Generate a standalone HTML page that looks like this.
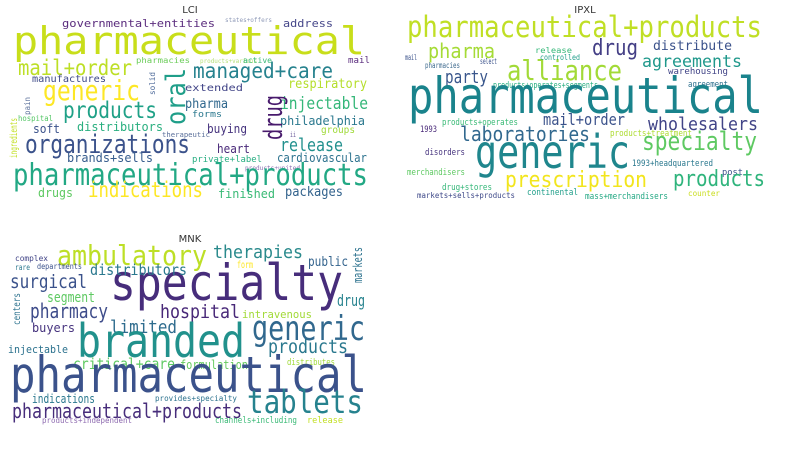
<!DOCTYPE html>
<html><head><meta charset="utf-8">
<style>
html,body{margin:0;padding:0;background:#fff;}
svg{display:block;}
text{font-family:"DejaVu Sans Mono","Liberation Mono",monospace;}
.t{font-family:"DejaVu Sans","Liberation Sans",sans-serif;fill:#333;font-size:10px;}
</style></head>
<body>
<svg id="c" width="787" height="450" viewBox="0 0 787 450">
<text class="t" x="190" y="13" text-anchor="middle">LCI</text>
<text class="t" x="585" y="13" text-anchor="middle">IPXL</text>
<text class="t" x="190" y="242" text-anchor="middle">MNK</text>
</svg>
<script>
// word, left x, baseline y, font size, width, color, rotated(1 = vertical, x=right edge, y=bottom)
const lciWords = [
["pharmaceutical",13,54,38,352,"#c8de1a"],
["governmental+entities",62,27,11,153,"#5b2d7e"],
["address",283,27,11,50,"#46478a"],
["states+offers",225,22,6,47,"#8f9ab8"],
["mail+order",18,75,21,114,"#bddf26"],
["generic",43,100,28,97,"#fde725"],
["managed+care",193,78,21,140,"#26828e"],
["pharmacies",136,63,8,54,"#6ccd5a"],
["products+various",200,63,6,57,"#b8e07a"],
["active",243,63,8,29,"#3aba76"],
["mail",348,63,9,22,"#5b2d7e"],
["manufactures",32,82,10,74,"#3e4a89"],
["respiratory",288,88,13,79,"#b5de2b"],
["extended",185,91,10,58,"#414487"],
["injectable",280,109,17,88,"#35b779"],
["products",63,118,23,94,"#1fa187"],
["pharma",185,108,13,43,"#31688e"],
["forms",192,117,9,30,"#2a788e"],
["philadelphia",280,125,12,85,"#2a788e"],
["hospital",18,121,8,35,"#55c667"],
["soft",33,133,12,27,"#3b528b"],
["distributors",77,131,12,86,"#29af7f"],
["buying",207,133,12,40,"#46337e"],
["groups",321,133,10,34,"#a0da39"],
["therapeutic",162,137,7,48,"#5a6f9a"],
["ii",290,137,7,6,"#6a5a9a"],
["organizations",25,153,26,165,"#3b528b"],
["release",280,151,18,63,"#21908d"],
["heart",217,153,12,33,"#482878"],
["brands+sells",67,162,12,86,"#365c8d"],
["cardiovascular",277,162,12,90,"#2c728e"],
["private+label",192,162,9,70,"#27ad81"],
["products+united",245,170,6,55,"#8a6fb0"],
["pharmaceutical+products",13,185,30,355,"#22a884"],
["indications",88,197,21,115,"#fde725"],
["drugs",38,197,12,35,"#5ec962"],
["finished",218,198,12,57,"#3aba76"],
["packages",285,196,13,58,"#33638d"],
["oral",185,125,27,57,"#1f9e89",1],
["drug",282,140,26,45,"#481a6c",1],
["ingredients",17,158,10,40,"#c2df23",1],
["pain",30,115,8,18,"#5a6f9a",1],
["solid",155,95,8,23,"#4e6a9a",1]
];
const ipxlWords = [
["pharmaceutical+products",407,37,29,355,"#c0df25"],
["pharma",428,58,20,67,"#a5db36"],
["drug",592,55,22,46,"#433e85"],
["distribute",653,50,13,79,"#3b528b"],
["alliance",507,80,28,115,"#a2da37"],
["agreements",642,67,17,100,"#1f988b"],
["mail",405,60,8,12,"#3b528b"],
["release",535,53,8,37,"#35b779"],
["controlled",540,60,8,40,"#1f9e89"],
["pharmacies",425,68,8,35,"#3e6a8e"],
["select",480,64,8,17,"#3b528b"],
["party",445,83,18,43,"#39568c"],
["warehousing",668,74,9,60,"#414487"],
["products+operates+segments",493,88,9,105,"#28ae80"],
["agreement",688,87,9,40,"#2d708e"],
["pharmaceutical",408,113,50,355,"#1a838c"],
["products+operates",442,125,9,76,"#3aba76"],
["mail+order",543,125,16,82,"#3b528b"],
["wholesalers",648,130,18,110,"#414487"],
["1993",420,132,9,17,"#482878"],
["laboratories",460,141,20,130,"#31688e"],
["products+treatment",610,136,9,82,"#addc30"],
["specialty",642,150,26,115,"#5ec962"],
["generic",475,168,46,155,"#1f868d"],
["disorders",425,155,9,40,"#46337e"],
["1993+headquartered",632,166,9,81,"#2a788e"],
["merchandisers",407,175,9,58,"#5ec962"],
["post",722,175,9,21,"#3b528b"],
["prescription",505,187,22,142,"#f2e51d"],
["products",673,186,22,92,"#2fb47c"],
["drug+stores",442,190,9,50,"#35b779"],
["continental",527,195,9,51,"#1f9e89"],
["markets+sells+products",417,198,8,98,"#3e4989"],
["mass+merchandisers",585,199,9,83,"#23a883"],
["counter",688,196,8,32,"#c9dd1e"]
];
const mnkWords = [
["ambulatory",57,265,28,150,"#bddf26"],
["therapies",213,258,18,90,"#2a8a8c"],
["specialty",110,300,50,233,"#472d7b"],
["public",308,266,13,40,"#33638d"],
["form",237,268,10,16,"#fde725"],
["distributors",90,275,15,97,"#2a788e"],
["surgical",10,288,19,77,"#3b528b"],
["complex",15,261,8,33,"#414487"],
["rare",15,270,8,15,"#2a788e"],
["departments",37,269,8,45,"#3b528b"],
["segment",47,302,14,48,"#5ec962"],
["drug",337,306,16,28,"#26828e"],
["pharmacy",30,318,20,78,"#3e4c8a"],
["hospital",160,318,19,80,"#482878"],
["intravenous",242,318,11,70,"#a2da37"],
["limited",110,333,18,67,"#2f6c8e"],
["buyers",32,332,12,43,"#46337e"],
["generic",252,340,34,113,"#31688e"],
["branded",77,357,46,168,"#21918c"],
["products",268,353,19,80,"#2a788e"],
["injectable",8,353,11,60,"#2c728e"],
["critical+care",73,369,15,102,"#5ec962"],
["formulation",180,369,12,68,"#65cb5e"],
["distributes",287,365,9,48,"#a0da39"],
["pharmaceutical",10,392,50,357,"#3b528b"],
["indications",32,403,12,63,"#2a788e"],
["provides+specialty",155,401,8,82,"#2c728e"],
["tablets",247,413,32,116,"#26828e"],
["pharmaceutical+products",12,418,20,230,"#472d7b"],
["products+independent",42,423,8,90,"#8e6bb0"],
["channels+including",215,423,9,82,"#3aba76"],
["release",307,423,9,36,"#c2df23"],
["markets",362,283,12,36,"#2c728e",1],
["centers",20,325,10,32,"#2c728e",1]
];
const svg = document.getElementById('c');
const NS = 'http://www.w3.org/2000/svg';
function draw(list, panel){
  for (const w of list){
    const t = document.createElementNS(NS,'text');
    
    
    t.setAttribute('font-size', w[3]);
    t.setAttribute('fill', w[5]);
    t.setAttribute('textLength', w[4]);
    t.setAttribute('lengthAdjust', 'spacingAndGlyphs');
    if (w[6]) {
      t.setAttribute('transform', 'translate(' + w[1] + ',' + w[2] + ') rotate(-90)');
      t.setAttribute('x', 0); t.setAttribute('y', 0);
    } else {
      t.setAttribute('x', w[1]); t.setAttribute('y', w[2]);
    }
    t.textContent = w[0];
    svg.appendChild(t);
  }
}
draw(lciWords,'lci');
draw(ipxlWords,'ipxl');
draw(mnkWords,'mnk');
</script>
</body></html>
